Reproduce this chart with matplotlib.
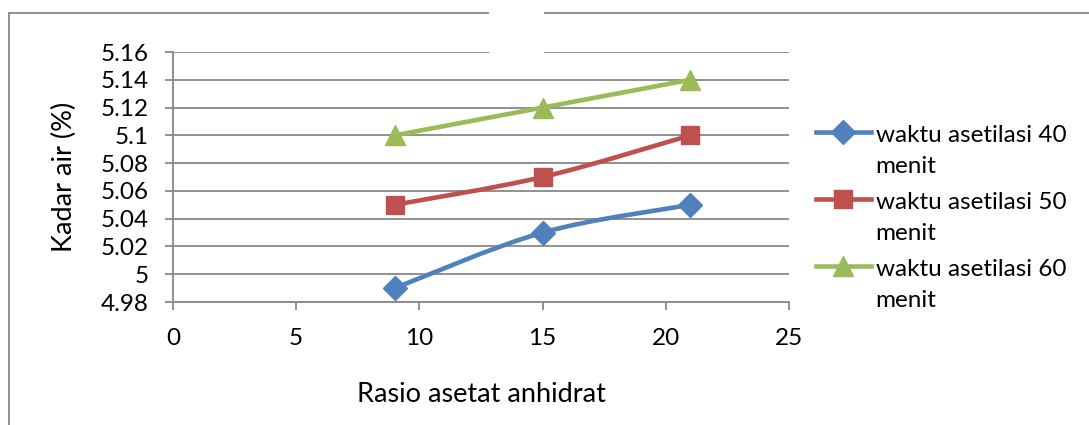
import numpy as np
import matplotlib
matplotlib.use("Agg")
import matplotlib.pyplot as plt
from matplotlib.path import Path
from matplotlib.patches import PathPatch, Rectangle
from matplotlib.lines import Line2D
from matplotlib.legend_handler import HandlerLine2D
import matplotlib.transforms as mtransforms

plt.rcParams['font.family'] = ['Lato', 'DejaVu Sans']

# ---- data ----
rasio = [9, 15, 21]
kadar_40 = [4.99, 5.03, 5.05]
kadar_50 = [5.05, 5.07, 5.10]
kadar_60 = [5.10, 5.12, 5.14]
series_labels = ["waktu asetilasi 40\nmenit", "waktu asetilasi 50\nmenit", "waktu asetilasi 60\nmenit"]
x_ticks = [0, 5, 10, 15, 20, 25]
y_ticks = [4.98, 5.00, 5.02, 5.04, 5.06, 5.08, 5.10, 5.12, 5.14, 5.16]
y_tick_labels = ["4.98", "5", "5.02", "5.04", "5.06", "5.08", "5.1", "5.12", "5.14", "5.16"]
x_label = "Rasio asetat anhidrat"
y_label = "Kadar air (%)"

colors = ["#4F81BD", "#C0504D", "#9BBB59"]
markers = ["D", "s", "^"]
msizes = [12, 13, 14]
grid_c = "#888888"
FS = 17.5
FS_T = 19.5

W, H = 1089, 425
fig = plt.figure(figsize=(W / 100, H / 100), dpi=100)
ax = fig.add_axes([173 / W, 1 - 302 / H, (789 - 173) / W, (302 - 52) / H])


def smooth_path(xs, ys):
    pts = np.column_stack([xs, ys]).astype(float)
    n = len(pts)
    verts = [pts[0]]
    codes = [Path.MOVETO]
    for i in range(n - 1):
        p0 = pts[max(i - 1, 0)]
        p1 = pts[i]
        p2 = pts[i + 1]
        p3 = pts[min(i + 2, n - 1)]
        c1 = p1 + (p2 - p0) / 6.0
        c2 = p2 - (p3 - p1) / 6.0
        verts += [c1, c2, p2]
        codes += [Path.CURVE4] * 3
    return Path(verts, codes)


handles = []
for ys, c, m, ms, lab in zip([kadar_40, kadar_50, kadar_60], colors, markers, msizes, series_labels):
    ax.add_patch(PathPatch(smooth_path(rasio, ys), fill=False, edgecolor=c, lw=3.3,
                           capstyle='round', joinstyle='round', zorder=3))
    ax.plot(rasio, ys, linestyle='none', marker=m, markersize=ms, color=c,
            markeredgecolor=c, zorder=4)
    handles.append(Line2D([], [], color=c, lw=3.3, marker=m, markersize=ms,
                          markeredgecolor=c, label=lab))

ax.set_xlim(0, 25)
ax.set_ylim(4.98, 5.16)
ax.set_xticks(x_ticks)
ax.set_yticks(y_ticks)
ax.set_yticklabels(y_tick_labels)
ax.grid(axis='y', color=grid_c, lw=1.3)
ax.set_axisbelow(True)
for s in ['top', 'right']:
    ax.spines[s].set_visible(False)
for s in ['left', 'bottom']:
    ax.spines[s].set_color(grid_c)
    ax.spines[s].set_linewidth(1.3)
ax.tick_params(axis='both', direction='out', length=5.5, width=1.3, color=grid_c,
               labelsize=FS, labelcolor='black')
ax.tick_params(axis='x', pad=13)
ax.tick_params(axis='y', pad=12)
ax.set_xlabel(x_label, fontsize=FS_T, labelpad=24)
ax.set_ylabel(y_label, fontsize=FS_T, labelpad=17)


class UpHandler(HandlerLine2D):
    def __init__(self, dy, **kw):
        super().__init__(**kw)
        self.dy = dy

    def create_artists(self, legend, orig_handle, xdescent, ydescent, width, height,
                       fontsize, trans):
        t = mtransforms.Affine2D().translate(0, self.dy) + trans
        return super().create_artists(legend, orig_handle, xdescent, ydescent, width,
                                      height, fontsize, t)


leg = fig.legend(handles=handles, loc='upper left',
                 bbox_to_anchor=(816 / W, 1 - 125 / H), frameon=False, fontsize=FS,
                 handlelength=2.25, handletextpad=0.2, labelspacing=0.62, numpoints=1,
                 borderaxespad=0, borderpad=0,
                 handler_map={Line2D: UpHandler(dy=13.8, numpoints=1)})
for t in leg.get_texts():
    t.set_linespacing(1.58)

# chart border
fig.patches.append(Rectangle((9 / W, -0.1), 1.2, 1 - 13 / H + 0.1, transform=fig.transFigure,
                             fill=False, edgecolor=grid_c, lw=1.3, zorder=0))
# white gap covering top border
fig.patches.append(Rectangle((489 / W, 1 - 60 / H), 55 / W, 60 / H, transform=fig.transFigure,
                             facecolor='white', edgecolor='none', zorder=10))

fig.savefig("out.png", dpi=100, facecolor='white')
